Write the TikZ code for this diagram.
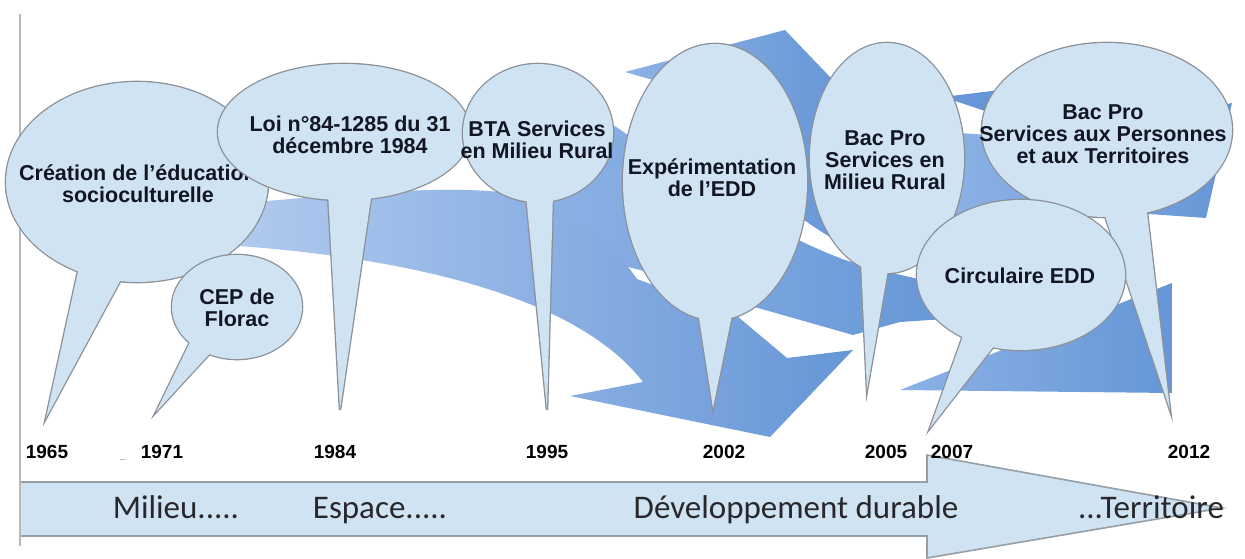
\documentclass[tikz,border=0pt]{standalone}
\usepackage{fontspec}
\setmainfont{Liberation Sans}
\newfontfamily\calfont{Carlito}
\definecolor{bubcol}{RGB}{207,227,243}
\definecolor{bubline}{RGB}{140,145,152}
\definecolor{txt}{RGB}{18,22,34}
\definecolor{bandL}{RGB}{178,203,239}
\definecolor{bandM}{RGB}{140,178,229}
\definecolor{bandD}{RGB}{102,150,215}
\definecolor{tlfill}{RGB}{207,227,243}
\definecolor{tlline}{RGB}{150,158,166}
\definecolor{vline}{RGB}{185,185,185}
\definecolor{eracol}{RGB}{40,40,44}
\newcommand{\bubble}[7]{%
  \draw[bubout] #5 -- (#7) -- #6 -- cycle;
  \draw[bubout] (#1,#2) ellipse[x radius=#3pt, y radius=#4pt];
  \fill[bubbody] #5 -- (#7) -- #6 -- cycle;
  \fill[bubbody] (#1,#2) ellipse[x radius=#3pt, y radius=#4pt];}
\begin{document}
\begin{tikzpicture}[x=1pt,y=-1pt,
  bubout/.style={draw=bubline,line width=2.6pt},
  bubbody/.style={fill=bubcol},
  bubtext/.style={font=\bfseries\fontsize{21.5}{22}\selectfont, text=txt, align=center, inner sep=0pt},
  yeartext/.style={font=\bfseries\fontsize{19}{19}\selectfont, text=black, anchor=base, inner sep=0pt},
  eratext/.style={font=\calfont\fontsize{33}{33}\selectfont, text=eracol, anchor=base, inner sep=0pt}]
\useasboundingbox (0,0) rectangle (1245,559);
\fill[white] (0,0) rectangle (1245,559);

% ---- background swirl of blue arrows ----
\path[left color=bandM, right color=bandD]
  (540,190) -- (615,126) .. controls (690,180) and (770,232) .. (845,260)
  .. controls (885,272) and (920,280) .. (960,287) -- (960,318) -- (900,322) -- (853,335)
  -- (737,302) -- (640,270) -- (560,250) -- cycle;
\path[left color=bandL, right color=bandD]
  (225,205) .. controls (350,193) and (440,186) .. (500,192)
  .. controls (560,200) and (610,240) .. (637,279)
  -- (737,316) -- (787,358) -- (853,350) -- (770,437) -- (570,396) -- (643,382)
  .. controls (580,300) and (420,258) .. (225,245) -- cycle;
\path[left color=bandM, right color=bandD]
  (625,72) -- (785,30) -- (830,77) -- (850,150) -- (845,245)
  .. controls (780,213) and (700,130) .. (660,82) -- cycle;
\fill[bandD] (943,97) -- (1000,90) -- (1000,116) -- cycle;
\path[left color=bandM, right color=bandD]
  (945,132) -- (1060,140) -- (1232,103) -- (1206,218) -- (1120,212) -- (1000,232) -- (945,225) -- cycle;
\path[left color=bandM, right color=bandD]
  (900,390) -- (1172,283) -- (1172,393) -- cycle;

% ---- timeline arrow ----
\path[draw=tlline, line width=1.6pt, fill=tlfill]
  (20,482) -- (927,482) -- (927,455) -- (1222,508) -- (927,558) -- (927,536) -- (20,536) -- cycle;
\draw[line width=2pt, vline] (20,14) -- (20,546);

% ---- tips ----
\coordinate (tipCre) at (46,418);
\coordinate (tipCep) at (156,412);
\coordinate (tipLoi) at (340,410);
\coordinate (tipBta) at (547,410);
\coordinate (tipExp) at (713,408);
\coordinate (tipSmr) at (867,390);
\coordinate (tipSapt) at (1170,410);
\coordinate (tipCirc) at (930,428);

% ---- bubbles ----
\bubble{137}{182}{131}{100}{(80,262)}{(125,272)}{tipCre}
\node[bubtext] (tCre) at (138,184) {Création de l'éducation\\socioculturelle};
\bubble{237}{307}{65}{52}{(192,338)}{(213,350)}{tipCep}
\begin{scope}
  \clip (150,270) rectangle (330,325);
  \node[bubtext] (tCep) at (237,308) {CEP de\\Florac};
\end{scope}
\bubble{344}{132}{126}{68}{(328,192)}{(372,191)}{tipLoi}
\node[bubtext] (tLoi) at (350,135) {Loi n°84-1285 du 31\\décembre 1984};
\bubble{538}{133}{75}{69}{(526,195)}{(553,194)}{tipBta}
\node[bubtext] (tBta) at (537,140) {BTA Services\\en Milieu Rural};
\bubble{715}{182}{92}{138}{(697,305)}{(734,305)}{tipExp}
\node[bubtext] (tExp) at (712,178) {Expérimentation\\de l'EDD};
\bubble{887}{158}{77}{115}{(861,262)}{(889,264)}{tipSmr}
\node[bubtext] (tSmr) at (885,160) {Bac Pro\\Services en\\Milieu Rural};
\bubble{1107}{130}{125}{87}{(1103,210)}{(1146,204)}{tipSapt}
\node[bubtext] (tSapt) at (1103,134) {Bac Pro\\Services aux Personnes\\et aux Territoires};
\bubble{1021}{275}{104}{75}{(964,333)}{(997,342)}{tipCirc}
\node[bubtext] (tCirc) at (1020,276) {Circulaire EDD};

% ---- years ----
\node[yeartext] (y1965) at (47,458) {1965};
\node[font=\fontsize{9}{9}\selectfont, text=gray, anchor=base, inner sep=0pt] (dash) at (123,458) {\_};
\node[yeartext] (y1971) at (162,458) {1971};
\node[yeartext] (y1984) at (335,458) {1984};
\node[yeartext] (y1995) at (547,458) {1995};
\node[yeartext] (y2002) at (724,458) {2002};
\node[yeartext] (y2005) at (886,458) {2005};
\node[yeartext] (y2007) at (952,458) {2007};
\node[yeartext] (y2012) at (1189,458) {2012};

% ---- eras ----
\node[eratext] (eMil) at (176,518) {Milieu.....};
\node[eratext] (eEsp) at (380,518) {Espace.....};
\node[eratext] (eDev) at (796,518) {Développement durable};
\node[eratext] (eTer) at (1151,518) {...Territoire};
\end{tikzpicture}
\end{document}
